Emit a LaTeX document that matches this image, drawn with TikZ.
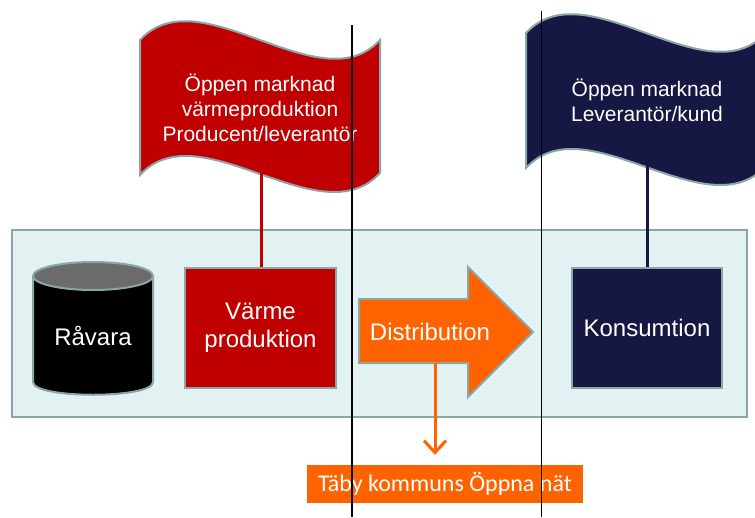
\documentclass[tikz,border=0pt]{standalone}
\usepackage{fontspec}
\setmainfont{Liberation Sans}
\newfontfamily\calibrifont{Carlito}
\usetikzlibrary{
    arrows.meta,
    positioning
}
\definecolor{flagred}{HTML}{C00000}
\definecolor{flagnavy}{HTML}{171744}
\definecolor{netorange}{HTML}{FF6200}
\definecolor{edgegrey}{HTML}{8CA6A8}
\definecolor{panelblue}{HTML}{E2F2F2}
\definecolor{lidgrey}{HTML}{6B6B6B}
\tikzset{
    % Colors
    nice red/.style={fill=flagred},
    nice navy/.style={fill=flagnavy},
    nice orange/.style={fill=netorange},
    %
    % Shapes
    frame/.style={draw=edgegrey,line width=2pt},
    box/.style={frame,minimum width=151pt,minimum height=120pt,text=white,align=center,font=\fontsize{24}{28}\selectfont},
    flag text/.style={text=white,align=center,font=\fontsize{21}{25}\selectfont},
    pole/.style={line width=3pt},
    %
    % Arrows
    arrow tip/.tip={Straight Barb[length=12pt,width=22pt]},
    arr/.style={->,>={arrow tip}},
    %
    % Marker lines
    border line/.style={black,line width=#1},
    border line/.default=1pt
}

\begin{document}
\begin{tikzpicture}[x=1pt,y=-1pt]
        \clip (0,0) rectangle (755,517);
        \fill[white] (0,0) rectangle (755,517);
        % panel
        \draw[frame,fill=panelblue] (12,230) rectangle (747,417);
        % poles
        \coordinate (redfoot) at (261,172);
        \coordinate (navyfoot) at (647,165);
        % flags
        \draw[frame,nice red] (140,40) .. controls (200,-25) and (320,105) .. (380,40) -- (380,173) .. controls (320,238) and (200,110) .. (140,175) -- cycle;
        \node[flag text] (redflag) at (260,108) {Öppen marknad\\värmeproduktion\\Producent/leverantör};
        \begin{scope}[shift={(386,-7)}]
            \draw[frame,nice navy] (140,40) .. controls (200,-25) and (320,105) .. (380,40) -- (380,173) .. controls (320,238) and (200,110) .. (140,175) -- cycle;
            \node[flag text] (navyflag) at (261,107) {Öppen marknad\\Leverantör/kund};
        \end{scope}
        % raw material
        \draw[frame,fill=black] (33,276) -- (33,382) .. controls (33,399) and (153,399) .. (153,382) -- (153,276) -- cycle;
        \draw[frame,fill=lidgrey] (93,276) ellipse [x radius=60, y radius=14];
        \node[text=white,font=\fontsize{24}{28}\selectfont] (ravara) at (93,336) {Råvara};
        % boxes
        \node[box,nice red] (varme) at (260.5,328) {Värme\\produktion};
        \node[box,nice navy,minimum width=150pt] (konsum) at (647,328) {Konsumtion};
        \draw[pole,flagred] (redfoot) -- (redfoot |- varme.north);
        \draw[pole,flagnavy] (navyfoot) -- (navyfoot |- konsum.north);
        % distribution
        \draw[frame,nice orange] (359,299) -- (468,299) -- (468,267) -- (533,332) -- (468,397) -- (468,363) -- (359,363) -- cycle;
        \node[text=white,font=\fontsize{24}{28}\selectfont] (dist) at (430,332) {Distribution};
        \node[nice orange,minimum width=276pt,minimum height=38pt,text=white,font=\calibrifont\fontsize{24}{28}\selectfont] (taby) at (445,484) {Täby kommuns Öppna nät};
        \coordinate (distfoot) at (435,363);
        \draw[arr,netorange,line width=3pt,shorten >=10pt] (distfoot) -- (distfoot |- taby.north);
        % market borders
        \draw[border line=1.5pt] (352,25) -- (352,517);
        \draw[border line] (541,11) -- (541,517);
    \end{tikzpicture}
\end{document}
